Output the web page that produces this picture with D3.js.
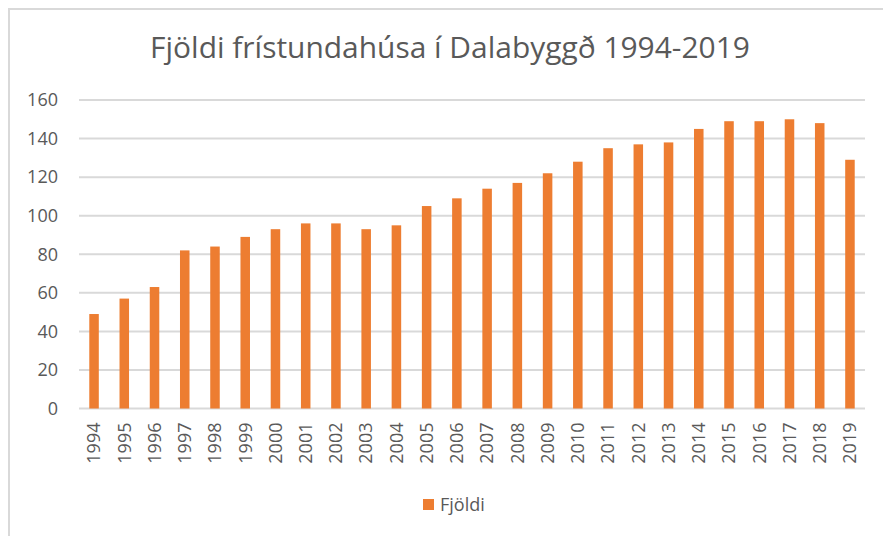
<!DOCTYPE html>
<html>
<head>
<meta charset="utf-8">
<script src="https://cdn.jsdelivr.net/npm/d3@7"></script>
<style>
  body { margin: 0; background: #fff; }
  text { font-family: "Open Sans", sans-serif; fill: #595959; }
</style>
</head>
<body>
<div id="chart"></div>
<script>
var years = ['1994', '1995', '1996', '1997', '1998', '1999', '2000', '2001', '2002', '2003', '2004', '2005', '2006',
             '2007', '2008', '2009', '2010', '2011', '2012', '2013', '2014', '2015', '2016', '2017', '2018', '2019'];
var fjoldi = [49, 57, 63, 82, 84, 89, 93, 96, 96, 93, 95, 105, 109,
              114, 117, 122, 128, 135, 137, 138, 145, 149, 149, 150, 148, 129];
var yTicks = [0, 20, 40, 60, 80, 100, 120, 140, 160];

var width = 883, height = 536;
var plotLeft = 79, plotRight = 865, plotTop = 100, plotBottom = 408.5;

var svg = d3.select('#chart').append('svg').attr('width', width).attr('height', height);

// chart frame
svg.append('rect').attr('x', 9).attr('y', 9).attr('width', width + 20).attr('height', height + 20)
    .attr('fill', 'none').attr('stroke', '#d9d9d9').attr('stroke-width', 2);

var x = d3.scaleBand().domain(years).range([plotLeft, plotRight]).paddingInner(0.685).paddingOuter(0.34);
var y = d3.scaleLinear().domain([0, 160]).range([plotBottom, plotTop]);

// gridlines
svg.append('g').selectAll('line').data(yTicks).enter().append('line')
    .attr('x1', plotLeft).attr('x2', plotRight)
    .attr('y1', function(d) { return y(d); }).attr('y2', function(d) { return y(d); })
    .attr('stroke', '#d9d9d9').attr('stroke-width', 2);

// y axis labels
var yAxis = svg.append('g').attr('transform', 'translate(' + (plotLeft - 21) + ',0)')
    .call(d3.axisLeft(y).tickValues(yTicks).tickSize(0).tickPadding(0));
yAxis.select('.domain').remove();
yAxis.selectAll('text').style('font-size', '18px').attr('fill', '#595959');

// bars
svg.append('g').selectAll('rect').data(fjoldi).enter().append('rect')
    .attr('x', function(d, i) { return x(years[i]); })
    .attr('width', x.bandwidth())
    .attr('y', function(d) { return y(d); })
    .attr('height', function(d) { return y(0) - y(d); })
    .attr('fill', '#ED7D31');

// x axis labels
var xAxis = svg.append('g').attr('transform', 'translate(0,' + plotBottom + ')')
    .call(d3.axisBottom(x).tickSize(0).tickPadding(0));
xAxis.select('.domain').remove();
xAxis.selectAll('text')
    .style('font-size', '18px').attr('fill', '#595959')
    .attr('text-anchor', 'end')
    .attr('transform', 'rotate(-90)')
    .attr('x', -14).attr('y', 0).attr('dy', '0.35em');

// title
var title = svg.append('text').attr('x', 450).attr('y', 58).attr('text-anchor', 'middle')
    .style('font-size', '26px').text('Fjöldi frístundahúsa í Dalabyggð 1994-2019');
var tw = title.node().getComputedTextLength();
title.style('font-size', (26 * 600 / tw) + 'px');

// legend
svg.append('rect').attr('x', 423).attr('y', 499).attr('width', 11).attr('height', 11).attr('fill', '#ED7D31');
svg.append('text').attr('x', 440).attr('y', 504.5).attr('dy', '0.35em')
    .style('font-size', '18px').text('Fjöldi');
</script>
</body>
</html>
